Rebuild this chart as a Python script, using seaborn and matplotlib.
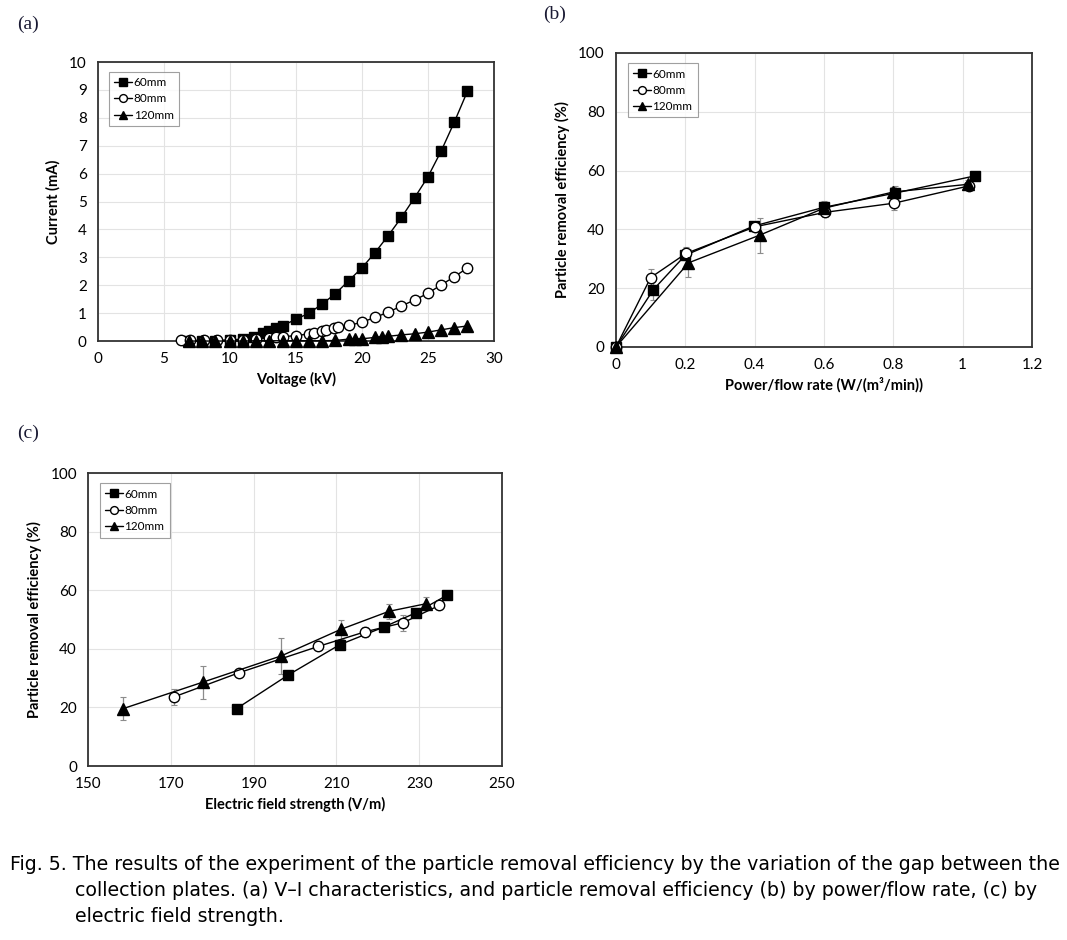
import matplotlib
matplotlib.use("Agg")
import matplotlib.pyplot as plt
import seaborn as sns

sns.set_theme(style="whitegrid")
plt.rcParams['font.family'] = ['Lato', 'DejaVu Sans']
plt.rcParams['text.color'] = 'black'
plt.rcParams['axes.labelcolor'] = 'black'
plt.rcParams['xtick.color'] = 'black'
plt.rcParams['ytick.color'] = 'black'

gaps = ["60mm", "80mm", "120mm"]

# (a) V-I characteristics
v_60 = [6.8, 7.9, 8.9, 10.0, 11.0, 11.8, 12.5, 13.0, 13.5, 14.0, 15.0, 16.0, 17.0, 18.0, 19.0,
        20.0, 21.0, 22.0, 23.0, 24.0, 25.0, 26.0, 27.0, 28.0]
i_60 = [0.0, 0.0, 0.01, 0.03, 0.08, 0.16, 0.28, 0.36, 0.46, 0.55, 0.78, 1.0, 1.33, 1.70, 2.16,
        2.62, 3.17, 3.78, 4.43, 5.14, 5.88, 6.80, 7.84, 8.95]
v_80 = [6.3, 7.0, 8.0, 9.0, 10.0, 11.0, 12.0, 13.0, 13.5, 14.0, 15.0, 16.0, 16.4, 17.0, 17.3,
        17.9, 18.2, 19.0, 20.0, 21.0, 22.0, 23.0, 24.0, 25.0, 26.0, 27.0, 28.0]
i_80 = [0.02, 0.02, 0.02, 0.02, 0.03, 0.05, 0.08, 0.11, 0.15, 0.16, 0.19, 0.26, 0.29, 0.36, 0.40,
        0.47, 0.50, 0.56, 0.67, 0.85, 1.03, 1.26, 1.47, 1.71, 2.01, 2.30, 2.62]
v_120 = [6.9, 7.9, 8.9, 10.0, 11.0, 12.0, 13.0, 14.0, 15.0, 16.0, 17.0, 18.0, 19.0, 19.5, 20.0,
         21.0, 21.5, 22.0, 23.0, 24.0, 25.0, 26.0, 27.0, 28.0]
i_120 = [0.0, 0.0, 0.0, 0.0, 0.0, 0.01, 0.01, 0.01, 0.01, 0.01, 0.01, 0.02, 0.07, 0.08, 0.08,
         0.13, 0.16, 0.17, 0.22, 0.26, 0.32, 0.40, 0.48, 0.54]

# (b) efficiency vs power/flow rate
pf_60 = [0.0, 0.108, 0.2, 0.397, 0.6, 0.804, 1.036]
eff_60 = [0.0, 19.5, 31.2, 41.1, 47.5, 52.3, 58.2]
err_60 = [0.0, 3.5, 1.5, 1.0, 2.3, 2.5, 0.8]
pf_80 = [0.0, 0.1, 0.202, 0.402, 0.604, 0.802, 1.019]
eff_80 = [0.0, 23.6, 31.8, 40.9, 45.8, 48.9, 54.8]
err_80 = [0.0, 2.8, 2.3, 1.2, 1.5, 2.2, 1.5]
pf_120 = [0.0, 0.209, 0.414, 0.6, 0.8, 1.014]
eff_120 = [0.0, 28.6, 38.0, 47.2, 52.7, 55.3]
err_120 = [0.0, 4.7, 6.0, 1.5, 1.8, 1.5]

# (c) efficiency vs electric field strength
ef_60 = [185.9, 198.4, 210.8, 221.4, 229.2, 236.6]
ceff_60 = [19.6, 31.1, 41.4, 47.4, 52.3, 58.2]
cerr_60 = [0.0, 1.0, 1.0, 1.0, 1.5, 0.8]
ef_80 = [170.8, 186.4, 205.6, 216.9, 226.1, 234.8]
ceff_80 = [23.6, 31.8, 40.8, 45.8, 48.9, 54.8]
cerr_80 = [2.8, 0.8, 1.0, 1.8, 2.8, 1.2]
ef_120 = [158.5, 177.7, 196.7, 211.0, 222.7, 231.7]
ceff_120 = [19.6, 28.6, 37.6, 46.6, 52.8, 55.4]
cerr_120 = [4.0, 5.7, 6.2, 3.3, 2.5, 2.3]

caption = ["Fig. 5. The results of the experiment of the particle removal efficiency by the variation of the gap between the",
           "collection plates. (a) V\u2013I characteristics, and particle removal efficiency (b) by power/flow rate, (c) by",
           "electric field strength."]

styles = {"60mm": dict(marker='s', markerfacecolor='black', markersize=7.5),
          "80mm": dict(marker='o', markerfacecolor='white', markersize=7.5),
          "120mm": dict(marker='^', markerfacecolor='black', markersize=8)}


def style_axes(ax, xlim, ylim, xticks, yticks, xlabel, ylabel, xticklabels=None):
    ax.set_xlim(*xlim)
    ax.set_ylim(*ylim)
    ax.set_xticks(xticks)
    if xticklabels is not None:
        ax.set_xticklabels(xticklabels)
    ax.set_yticks(yticks)
    ax.grid(True, color='#e3e3e3', linewidth=0.8)
    for s in ax.spines.values():
        s.set_color('#333333')
        s.set_linewidth(1.3)
    ax.tick_params(axis='y', length=4, width=0.8, color='#999999', labelsize=11, pad=4)
    ax.tick_params(axis='x', length=0, labelsize=11, pad=8)
    ax.set_xlabel(xlabel, fontsize=10.5, fontweight='bold', labelpad=4)
    ax.set_ylabel(ylabel, fontsize=10.5, fontweight='bold', labelpad=6)
    ax.set_facecolor('white')
    leg = ax.legend(loc='upper left', bbox_to_anchor=(0.028, 0.965), borderaxespad=0,
                    fontsize=8.5, handlelength=1.5, handletextpad=0.15, labelspacing=0.45,
                    markerscale=0.75, fancybox=False, frameon=True, borderpad=0.45)
    leg.get_frame().set_edgecolor('#888888')
    leg.get_frame().set_linewidth(0.8)


def draw(ax, xs, ys, errs=None):
    for gap, x, y in zip(gaps, xs, ys):
        sns.lineplot(x=x, y=y, ax=ax, color='black', linewidth=1.0, sort=False, estimator=None,
                     markeredgecolor='black', markeredgewidth=1.0, label=gap, zorder=3, **styles[gap])
    if errs is not None:
        for x, y, e in zip(xs, ys, errs):
            ax.errorbar(x, y, yerr=e, fmt='none', ecolor='#8c8c8c', elinewidth=0.9,
                        capsize=2, capthick=0.8, zorder=2)


fig = plt.figure(figsize=(10.67, 9.4), dpi=100)
ax_a = fig.add_axes([0.0918, 0.6372, 0.371, 0.2968])
ax_b = fig.add_axes([0.5773, 0.6309, 0.3899, 0.3128])
ax_c = fig.add_axes([0.0825, 0.1851, 0.388, 0.3117])

draw(ax_a, [v_60, v_80, v_120], [i_60, i_80, i_120])
style_axes(ax_a, (0, 30), (0, 10), range(0, 31, 5), range(0, 11), "Voltage (kV)", "Current (mA)")

draw(ax_b, [pf_60, pf_80, pf_120], [eff_60, eff_80, eff_120], [err_60, err_80, err_120])
style_axes(ax_b, (0, 1.2), (0, 100), [0, 0.2, 0.4, 0.6, 0.8, 1.0, 1.2], range(0, 101, 20),
           "Power/flow rate (W/(m\u00b3/min))", "Particle removal efficiency (%)",
           ["0", "0.2", "0.4", "0.6", "0.8", "1", "1.2"])

draw(ax_c, [ef_60, ef_80, ef_120], [ceff_60, ceff_80, ceff_120], [cerr_60, cerr_80, cerr_120])
style_axes(ax_c, (150, 250), (0, 100), range(150, 251, 20), range(0, 101, 20),
           "Electric field strength (V/m)", "Particle removal efficiency (%)")

for ax in (ax_a, ax_b, ax_c):
    for ln in ax.get_lines():
        ln.set_clip_on(False)

# panel letters
fig.text(17 / 1067, 1 - 24 / 940, "(a)", family='Liberation Serif', fontsize=14, va='center', color='#1a1a33')
fig.text(543 / 1067, 1 - 14 / 940, "(b)", family='Liberation Serif', fontsize=14, va='center', color='#1a1a33')
fig.text(17 / 1067, 1 - 433 / 940, "(c)", family='Liberation Serif', fontsize=14, va='center', color='#1a1a33')

# caption
cap_font = ['DejaVu Sans']
fig.text(10 / 1067, 1 - 865 / 940, caption[0], family=cap_font, fontsize=13.7, va='center')
fig.text(75 / 1067, 1 - 891 / 940, caption[1], family=cap_font, fontsize=13.7, va='center')
fig.text(75 / 1067, 1 - 917 / 940, caption[2], family=cap_font, fontsize=13.7, va='center')

fig.savefig("out.png", dpi=100, facecolor='white')
